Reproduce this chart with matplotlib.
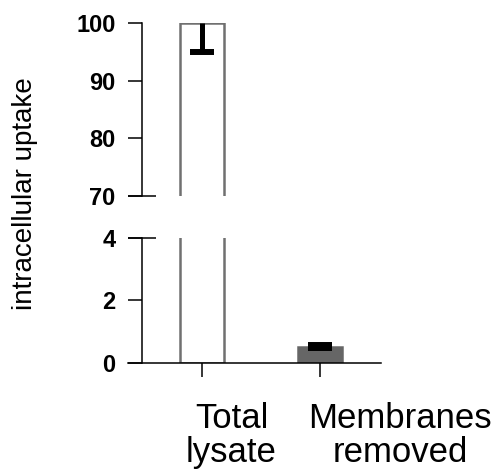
import matplotlib
matplotlib.use("Agg")
import matplotlib.pyplot as plt

categories = ["Total\nlysate", "Membranes\nremoved"]
means = [100, 0.52]
err_low = [5, 0.05]
err_high = [0, 0.05]
top_ticks = [70, 80, 90, 100]
bottom_ticks = [0, 2, 4]
ylabel = "intracellular uptake"

plt.rcParams['font.family'] = ['Liberation Sans', 'DejaVu Sans']

fig = plt.figure(figsize=(4.97, 4.76), dpi=100)
ax_b = fig.add_axes([0.2575, 0.2374, 0.5091, 0.2626])
ax_t = fig.add_axes([0.2575, 0.5882, 0.5091, 0.3634])

xpos = list(range(len(categories)))
xlim = (-0.627, 1.517)
spine_x = -0.508
face = ["white", "#666666"]
edge = ["#707070", "#666666"]
lw_axis = 1.1

for ax, ylim, ticks in [(ax_b, (0, 4), bottom_ticks), (ax_t, (70, 100), top_ticks)]:
    ax.bar(xpos, means, width=0.375, color=face, edgecolor=edge, linewidth=1.8, zorder=2)
    ax.set_xlim(*xlim)
    ax.set_ylim(*ylim)
    for s in ['top', 'right']:
        ax.spines[s].set_visible(False)
    ax.spines['left'].set_position(('data', spine_x))
    ax.spines['left'].set_linewidth(lw_axis)
    ax.spines['bottom'].set_linewidth(lw_axis)
    ax.set_yticks(ticks)
    ax.set_yticklabels([str(t) for t in ticks], fontsize=17, fontweight='bold')
    ax.tick_params(axis='y', direction='out', length=10, width=lw_axis, pad=9, labelsize=17)
    ax.patch.set_visible(False)

# error bars
eb = ax_t.errorbar([xpos[0]], [means[0]], yerr=[[err_low[0]], [err_high[0]]], fmt='none',
                   ecolor='black', elinewidth=3.6, capsize=8.6, capthick=4.3, zorder=3, clip_on=False)
for cl in eb[1]:
    if abs(cl.get_ydata()[0] - means[0]) < 1e-9:
        cl.set_visible(False)
ax_b.errorbar([xpos[1]], [means[1]], yerr=[[err_low[1]], [err_high[1]]], fmt='none',
              ecolor='black', elinewidth=3.6, capsize=8.6, capthick=4.3, zorder=3)

# top axis: no x axis
ax_t.spines['bottom'].set_visible(False)
ax_t.set_xticks([])

# bottom axis x ticks
ax_b.set_xticks(xpos)
ax_b.set_xticklabels([])
ax_b.tick_params(axis='x', direction='out', length=10, width=lw_axis)

# break marks
ax_t.plot([xlim[0], -0.39], [70, 70], color='black', lw=lw_axis, clip_on=False, solid_capstyle='butt')
ax_b.plot([xlim[0], -0.39], [4, 4], color='black', lw=lw_axis, clip_on=False, solid_capstyle='butt')

# category labels
label_x = [0.25, 1.68]
for lx, cat in zip(label_x, categories):
    ax_b.text(lx, -1.25, cat, ha='center', va='top', fontsize=25, linespacing=1.05,
              transform=ax_b.transData, clip_on=False)

fig.text(25/497, 1 - 194/476, ylabel, rotation=90, ha='center', va='center', fontsize=20)

fig.savefig("out.png", dpi=100)
